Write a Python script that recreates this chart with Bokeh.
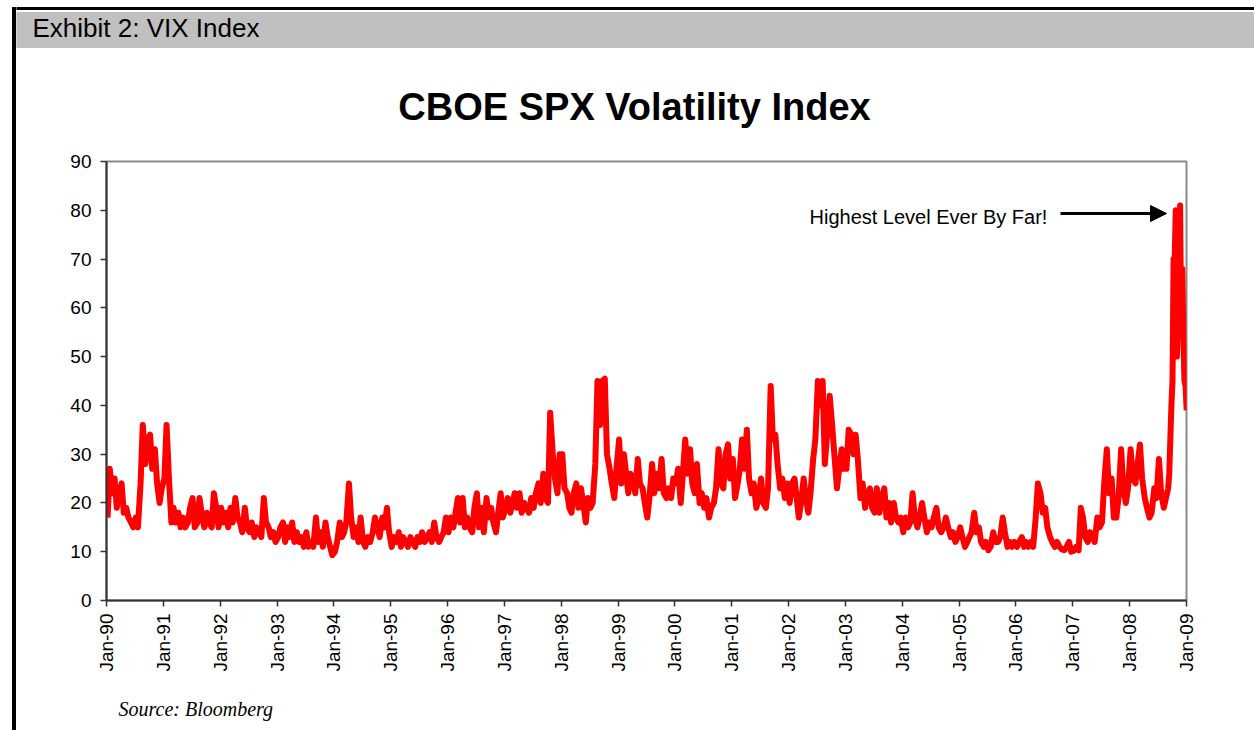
from datetime import datetime
from math import pi

import pandas as pd
from bokeh.plotting import figure
from bokeh.layouts import row, column
from bokeh.models import (Range1d, FixedTicker, DatetimeTickFormatter, Label,
                          Arrow, NormalHead, ColumnDataSource)
from bokeh.embed import file_html
from bokeh.resources import INLINE

# ---- data: VIX, two readings per month (1990 - Aug 2008) ----
vix_1990 = [17, 27, 22, 25, 19, 22, 24, 18, 19, 17, 16, 15, 17, 15, 24, 36, 28, 33, 34, 27, 31, 24, 20, 23]
vix_1991 = [25, 36, 24, 16, 19, 16, 18, 15, 17, 15, 16, 19, 21, 15, 16, 21, 17, 15, 18, 16, 15, 22, 19, 15]
vix_1992 = [19, 16, 18, 15, 19, 16, 21, 17, 16, 14, 19, 15, 14, 16, 13, 15, 14, 13, 21, 16, 15, 13, 14, 12]
vix_1993 = [13, 15, 16, 12, 15, 13, 16, 12, 14, 12, 13, 11, 14, 11, 12, 11, 17, 12, 14, 11, 16, 13, 11, 9.3]
vix_1994 = [10, 12, 16, 13, 14, 16, 24, 17, 13, 15, 12, 17, 12, 11, 13, 12, 14, 17, 15, 13, 17, 15, 19, 14]
vix_1995 = [11, 13, 12, 14, 11, 13, 12, 11, 13, 12, 11, 13, 12, 14, 12, 13, 14, 12, 16, 13, 12, 13, 14, 17]
vix_1996 = [14, 17, 15, 18, 21, 16, 21, 15, 17, 15, 14, 19, 22, 15, 19, 14, 21, 17, 19, 16, 14, 18, 22, 17]
vix_1997 = [19, 21, 18, 20, 22, 19, 22, 18, 20, 19, 18, 21, 19, 22, 24, 20, 26, 21, 20, 38.5, 30, 25, 22, 30]
vix_1998 = [30, 23, 22, 19, 18, 22, 24, 19, 23, 20, 16, 21, 19, 20, 28, 45, 36, 45, 45.5, 30, 27, 24, 21, 27]
vix_1999 = [33, 24, 30, 26, 22, 26, 25, 22, 29, 24, 23, 20, 17, 21, 28, 22, 26, 23, 29, 22, 21, 23, 21, 25]
vix_2000 = [24, 27, 20, 26, 33, 26, 31, 24, 22, 28, 20, 22, 19, 21, 17, 19, 20, 23, 31, 24, 23, 30, 32, 25]
vix_2001 = [29, 21, 24, 27, 33, 27, 35, 25, 22, 24, 19, 21, 25, 20, 19, 23, 44, 33, 34, 28, 23, 25, 21, 24]
vix_2002 = [20, 24, 25, 21, 17, 20, 25, 21, 18, 22, 29, 33, 45, 40, 45, 28, 35, 42, 36, 30, 23, 27, 31, 27]
vix_2003 = [27, 35, 34, 30, 34, 29, 21, 24, 19, 22, 23, 19, 18, 23, 18, 21, 23, 17, 20, 16, 20, 17, 16, 17]
vix_2004 = [14, 17, 15, 16, 22, 17, 15, 17, 20, 17, 14, 16, 15, 17, 19, 15, 14, 15, 17, 15, 13, 14, 12, 13]
vix_2005 = [15, 13, 11, 12, 13, 14, 18, 14, 15, 12, 11, 12, 10.3, 11, 14, 12, 12, 13, 17, 14, 11, 12, 11, 12]
vix_2006 = [11, 12, 13, 11, 12, 11, 12, 11, 17, 24, 22, 18, 19, 15, 13, 12, 11, 12, 11, 10.5, 10.3, 11, 12, 10]
vix_2007 = [10.2, 11, 10.3, 19, 17, 13, 12, 14, 13, 12, 17, 15, 16, 24, 31, 22, 25, 17, 17, 21, 31, 23, 20, 23]
vix_2008_jan_aug = [31, 25, 24, 28, 32, 25, 21, 19, 17, 18, 23, 21, 29, 22, 19, 21]
# weekly readings, 5 Sep 2008 - 2 Jan 2009
vix_late_2008 = [23, 26, 33, 40, 45, 70, 70, 80, 50, 57, 66, 81, 55, 68, 54, 45, 44, 39]

year_ticks = list(range(1990, 2010))
y_ticks = [0, 10, 20, 30, 40, 50, 60, 70, 80, 90]

semi = (vix_1990 + vix_1991 + vix_1992 + vix_1993 + vix_1994 + vix_1995 + vix_1996 +
        vix_1997 + vix_1998 + vix_1999 + vix_2000 + vix_2001 + vix_2002 + vix_2003 +
        vix_2004 + vix_2005 + vix_2006 + vix_2007 + vix_2008_jan_aug)
dates_semi = pd.date_range("1990-01-01", periods=len(semi), freq="SMS") + pd.Timedelta(days=7)
dates_week = pd.date_range("2008-09-05", periods=len(vix_late_2008), freq="W-FRI")

src = ColumnDataSource(dict(date=list(dates_semi) + list(dates_week),
                            vix=semi + vix_late_2008))

PAGE_W, PAGE_H = 1254, 730
RULE_W = 16                       # strip holding the left page rule
CW = PAGE_W - RULE_W              # width of the content column


def blank(width, height, x0, x1, y0, y1):
    """Decoration canvas whose data units are page pixels (y grows downward)."""
    f = figure(width=width, height=height, output_backend="svg", toolbar_location=None,
               x_range=Range1d(x0, x1), y_range=Range1d(y1, y0),
               x_axis_type=None, y_axis_type=None, min_border=0, frame_align=False)
    f.outline_line_color = None
    f.background_fill_color = "white"
    f.border_fill_color = "white"
    f.grid.grid_line_color = None
    return f


def text(fig, txt, x, y, size, style="normal", font="Liberation Sans", align="left"):
    fig.add_layout(Label(x=x, y=y, text=txt, text_font=font, text_font_size=size,
                         text_font_style=style, text_color="black", text_align=align,
                         text_baseline="alphabetic"))


# left rule strip
rule = blank(RULE_W, PAGE_H, 0, RULE_W, 0, PAGE_H)
rule.quad(left=12, right=15, top=7, bottom=PAGE_H, color="black")
rule.quad(left=12, right=RULE_W, top=7, bottom=9, color="black")

# header band
head = blank(CW, 48, RULE_W, PAGE_W, 0, 48)
head.quad(left=RULE_W, right=PAGE_W, top=7, bottom=9, color="black")
head.quad(left=RULE_W, right=PAGE_W, top=12, bottom=48, color="#C0C0C0")
text(head, "Exhibit 2: VIX Index", 32, 27, "26px")

# title strip
MAIN_TOP, MAIN_BOT = 148, 690
ttl = blank(CW, MAIN_TOP - 48, RULE_W, PAGE_W, 48, MAIN_TOP)
text(ttl, "CBOE SPX Volatility Index", 634, 106, "38px", style="bold", align="center")

# main chart: frame at page x 106..1186, y 161..600
p = figure(width=CW, height=MAIN_BOT - MAIN_TOP, x_axis_type="datetime",
           output_backend="svg", toolbar_location=None, frame_align=False,
           x_range=Range1d(datetime(1990, 1, 1), datetime(2009, 1, 1)),
           y_range=Range1d(0, 90),
           min_border_left=106 - RULE_W, min_border_right=PAGE_W - 1186,
           min_border_top=161 - MAIN_TOP, min_border_bottom=MAIN_BOT - 600)
p.background_fill_color = "white"
p.border_fill_color = "white"
p.outline_line_color = "#8a8a8a"
p.outline_line_width = 2
p.xgrid.grid_line_color = None
p.ygrid.grid_line_color = None

p.line("date", "vix", source=src, color="#FF0000", line_width=6, line_join="round")

tick_ms = [datetime(y, 1, 1).timestamp() * 1000 for y in year_ticks]
p.xaxis.ticker = FixedTicker(ticks=tick_ms)
fmt = "%b-%y"
p.xaxis.formatter = DatetimeTickFormatter(years=fmt, months=fmt, days=fmt, hours=fmt,
                                          minutes=fmt, seconds=fmt, milliseconds=fmt,
                                          microseconds=fmt, hourmin=fmt, minsec=fmt)
p.xaxis.major_label_orientation = pi / 2
p.yaxis.ticker = FixedTicker(ticks=y_ticks)

for ax in (p.xaxis[0], p.yaxis[0]):
    ax.major_label_text_font = "Liberation Sans"
    ax.major_label_text_font_size = "19px"
    ax.major_label_text_color = "black"
    ax.major_tick_in = 0
    ax.major_tick_out = 6
    ax.minor_tick_line_color = None
    ax.axis_line_color = "#333333"
    ax.axis_line_width = 2
    ax.major_tick_line_color = "#333333"
    ax.major_tick_line_width = 1.5
p.yaxis.major_label_standoff = 9
p.xaxis.major_label_standoff = 7

# annotation (inside the frame; screen units from the frame's bottom-left)
p.add_layout(Label(x=809 - 106, y=600 - 216, x_units="screen", y_units="screen",
                   text="Highest Level Ever By Far!", text_font="Liberation Sans",
                   text_font_size="20px", text_color="black", text_baseline="alphabetic"))
p.add_layout(Arrow(x_start=1060 - 106, x_end=1166 - 106, y_start=600 - 213, y_end=600 - 213,
                   start_units="screen", end_units="screen",
                   line_color="black", line_width=3,
                   end=NormalHead(size=16, fill_color="black", line_color="black")))

# source strip
src_fig = blank(CW, PAGE_H - MAIN_BOT, RULE_W, PAGE_W, MAIN_BOT, PAGE_H)
text(src_fig, "Source: Bloomberg", 118, 708, "20px", style="italic", font="Liberation Serif")

layout = row(rule, column(head, ttl, p, src_fig, spacing=0), spacing=0)

open("out.html", "w").write(file_html(layout, INLINE))
